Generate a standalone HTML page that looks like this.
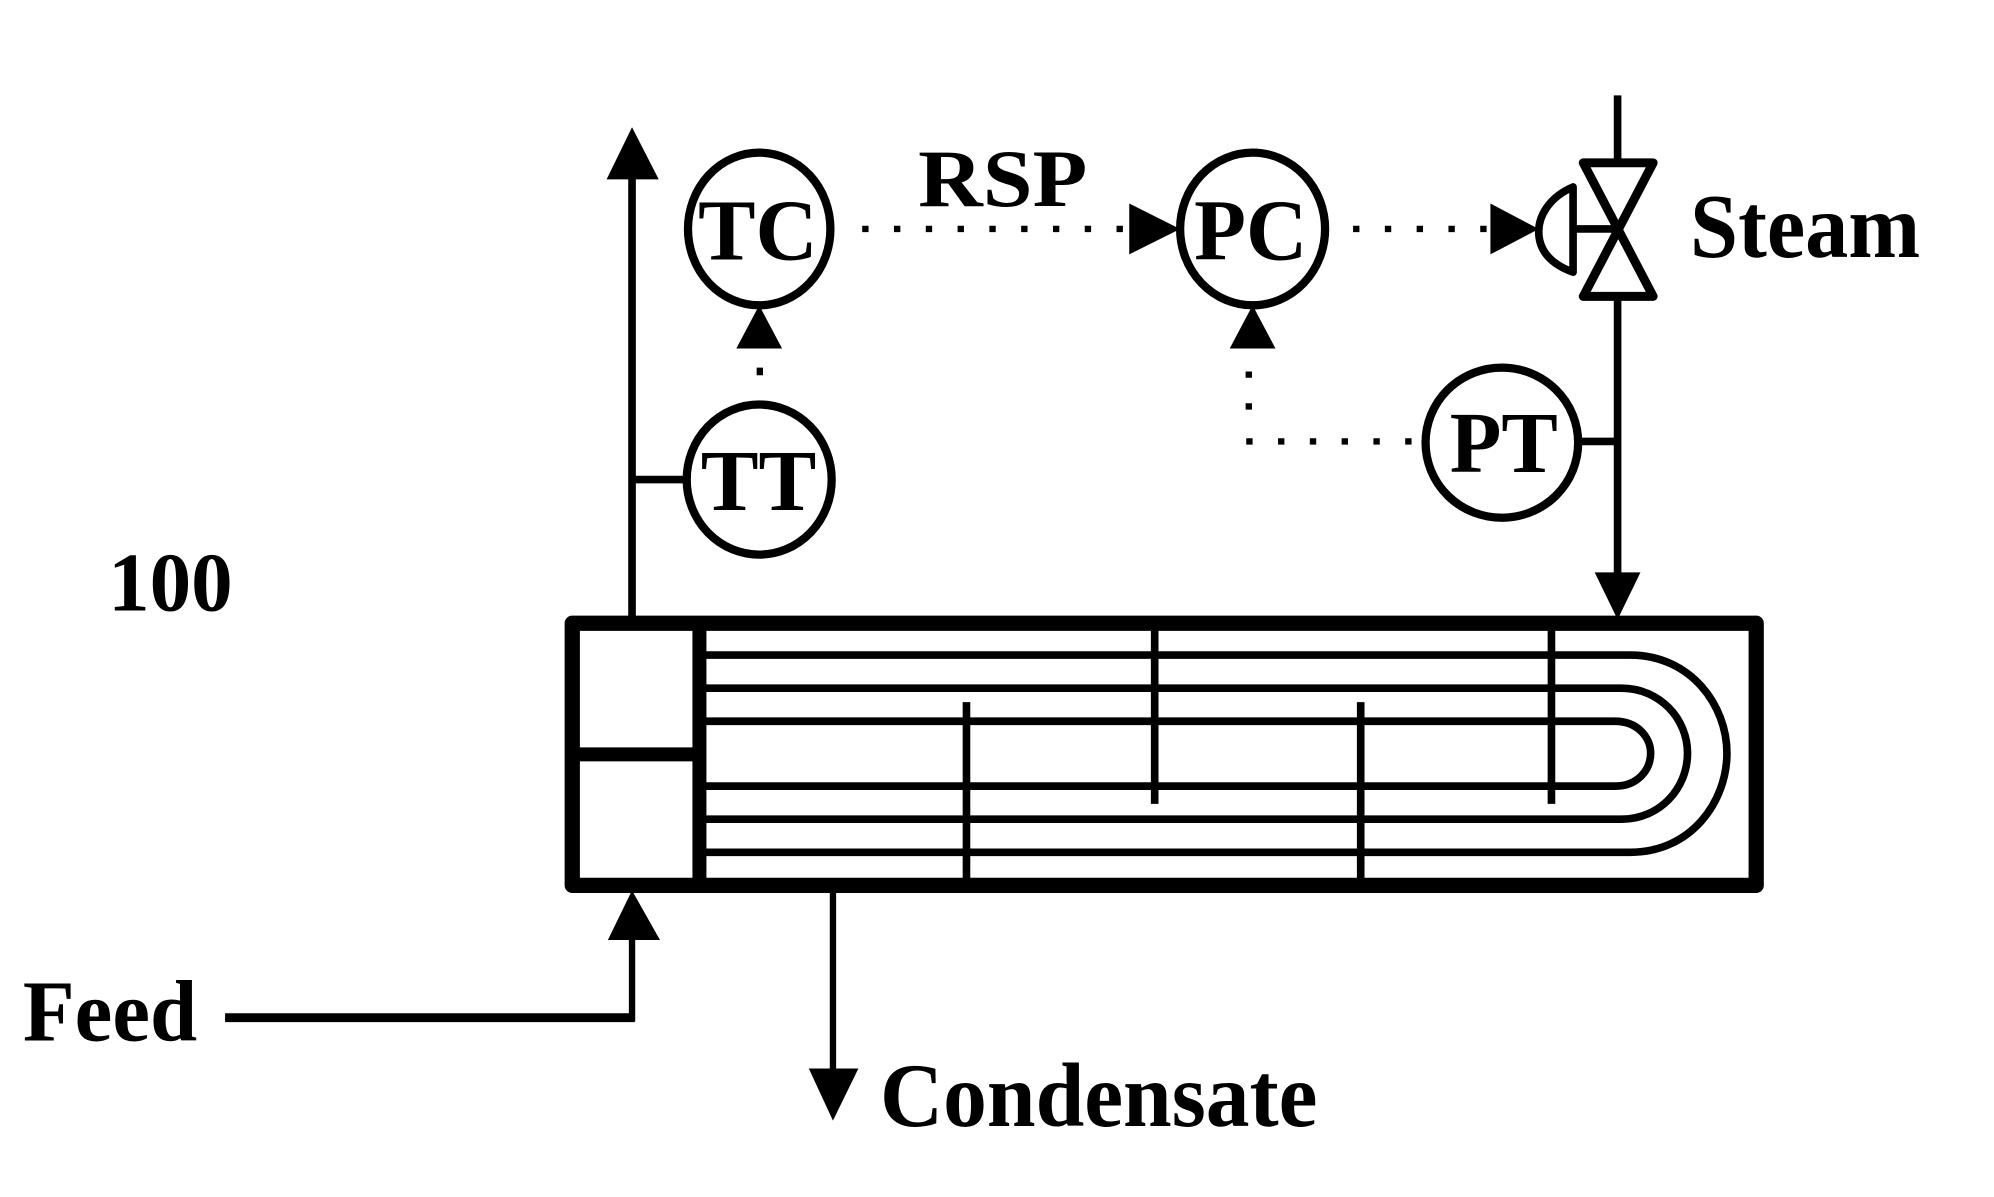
<!DOCTYPE html>
<html><head><meta charset="utf-8"><style>
html,body{margin:0;padding:0;background:#fff;}
svg{display:block;}
text{font-family:"Liberation Serif",serif;font-weight:bold;fill:#000;}
</style></head><body>
<svg width="1994" height="1197" viewBox="0 0 1568 941" preserveAspectRatio="none" xmlns="http://www.w3.org/2000/svg">
<g stroke="#000" fill="none" stroke-linecap="butt">
 <line x1="497" y1="138" x2="497" y2="488" stroke-width="6"/>
 <polygon points="497,100 477,141 518,141" fill="#000" stroke="none"/>
 <line x1="497" y1="377" x2="540" y2="377" stroke-width="6"/>
 <ellipse cx="597" cy="180" rx="56" ry="60" stroke-width="6.5"/>
 <ellipse cx="597" cy="377" rx="57" ry="59" stroke-width="6.5"/>
 <polygon points="597,240 579,274 615,274" fill="#000" stroke="none"/>
 <rect x="595" y="289" width="5" height="6" fill="#000" stroke="none"/>
 <line x1="678" y1="180" x2="888" y2="180" stroke-width="5" stroke-dasharray="5,20"/>
 <polygon points="928,180 888,160 888,200" fill="#000" stroke="none"/>
 <ellipse cx="985" cy="180" rx="57" ry="60" stroke-width="6.5"/>
 <polygon points="985,240 967,274 1003,274" fill="#000" stroke="none"/>
 <line x1="982" y1="292" x2="982" y2="335" stroke-width="5" stroke-dasharray="5,20"/>
 <line x1="980" y1="347" x2="1112" y2="347" stroke-width="5" stroke-dasharray="5,20"/>
 <line x1="1064" y1="180" x2="1172" y2="180" stroke-width="5" stroke-dasharray="5,20"/>
 <polygon points="1210,180 1172,160 1172,200" fill="#000" stroke="none"/>
 <path d="M1237,147 C1218,155 1210,170 1210,182 C1210,196 1218,207 1237,214 Z" stroke-width="6" stroke-linejoin="round"/>
 <line x1="1237" y1="180" x2="1272" y2="180" stroke-width="6"/>
 <polygon points="1245,128 1300,128 1245,233 1300,233" stroke-width="7" stroke-linejoin="round"/>
 <line x1="1272" y1="75" x2="1272" y2="128" stroke-width="6"/>
 <line x1="1272" y1="233" x2="1272" y2="452" stroke-width="6"/>
 <polygon points="1272,487 1254,450 1290,450" fill="#000" stroke="none"/>
 <ellipse cx="1181" cy="348" rx="60" ry="59" stroke-width="6.5"/>
 <line x1="1241" y1="347" x2="1272" y2="347" stroke-width="6"/>
 <rect x="450" y="490" width="931" height="206" stroke-width="12" stroke-linejoin="round"/>
 <line x1="550" y1="490" x2="550" y2="696" stroke-width="11"/>
 <line x1="450" y1="593" x2="550" y2="593" stroke-width="11"/>
 <g stroke-width="6">
  <path d="M555,515 H1282 C1330,515 1358,555 1358,592 C1358,630 1330,670 1282,670 H555"/>
  <path d="M555,541 H1275 C1305,541 1327,565 1327,592 C1327,620 1305,644 1275,644 H555"/>
  <path d="M555,567 H1270 C1288,567 1298,580 1298,592 C1298,605 1288,618 1270,618 H555"/>
 </g>
 <g stroke-width="6">
  <line x1="760" y1="552" x2="760" y2="692"/>
  <line x1="1070" y1="552" x2="1070" y2="692"/>
  <line x1="908" y1="494" x2="908" y2="632"/>
  <line x1="1220" y1="494" x2="1220" y2="632"/>
 </g>
 <line x1="177" y1="800" x2="499" y2="800" stroke-width="7"/>
 <line x1="497" y1="803" x2="497" y2="736" stroke-width="5"/>
 <polygon points="497,700 478,739 519,739" fill="#000" stroke="none"/>
 <line x1="655" y1="700" x2="655" y2="842" stroke-width="5"/>
 <polygon points="655,881 636,840 675,840" fill="#000" stroke="none"/>
</g>
<text x="549" y="204" font-size="68" textLength="94" lengthAdjust="spacingAndGlyphs">TC</text>
<text x="551" y="401" font-size="68" textLength="91" lengthAdjust="spacingAndGlyphs">TT</text>
<text x="939" y="204" font-size="68" textLength="89" lengthAdjust="spacingAndGlyphs">PC</text>
<text x="1140" y="371" font-size="68" textLength="85" lengthAdjust="spacingAndGlyphs">PT</text>
<text x="722" y="162" font-size="64" textLength="133" lengthAdjust="spacingAndGlyphs">RSP</text>
<text x="1329" y="202" font-size="72" textLength="181" lengthAdjust="spacingAndGlyphs">Steam</text>
<text x="85" y="480" font-size="66" textLength="98" lengthAdjust="spacingAndGlyphs">100</text>
<text x="18" y="818" font-size="68" textLength="137" lengthAdjust="spacingAndGlyphs">Feed</text>
<text x="692" y="885" font-size="72" textLength="344" lengthAdjust="spacingAndGlyphs">Condensate</text>
</svg>
</body></html>
